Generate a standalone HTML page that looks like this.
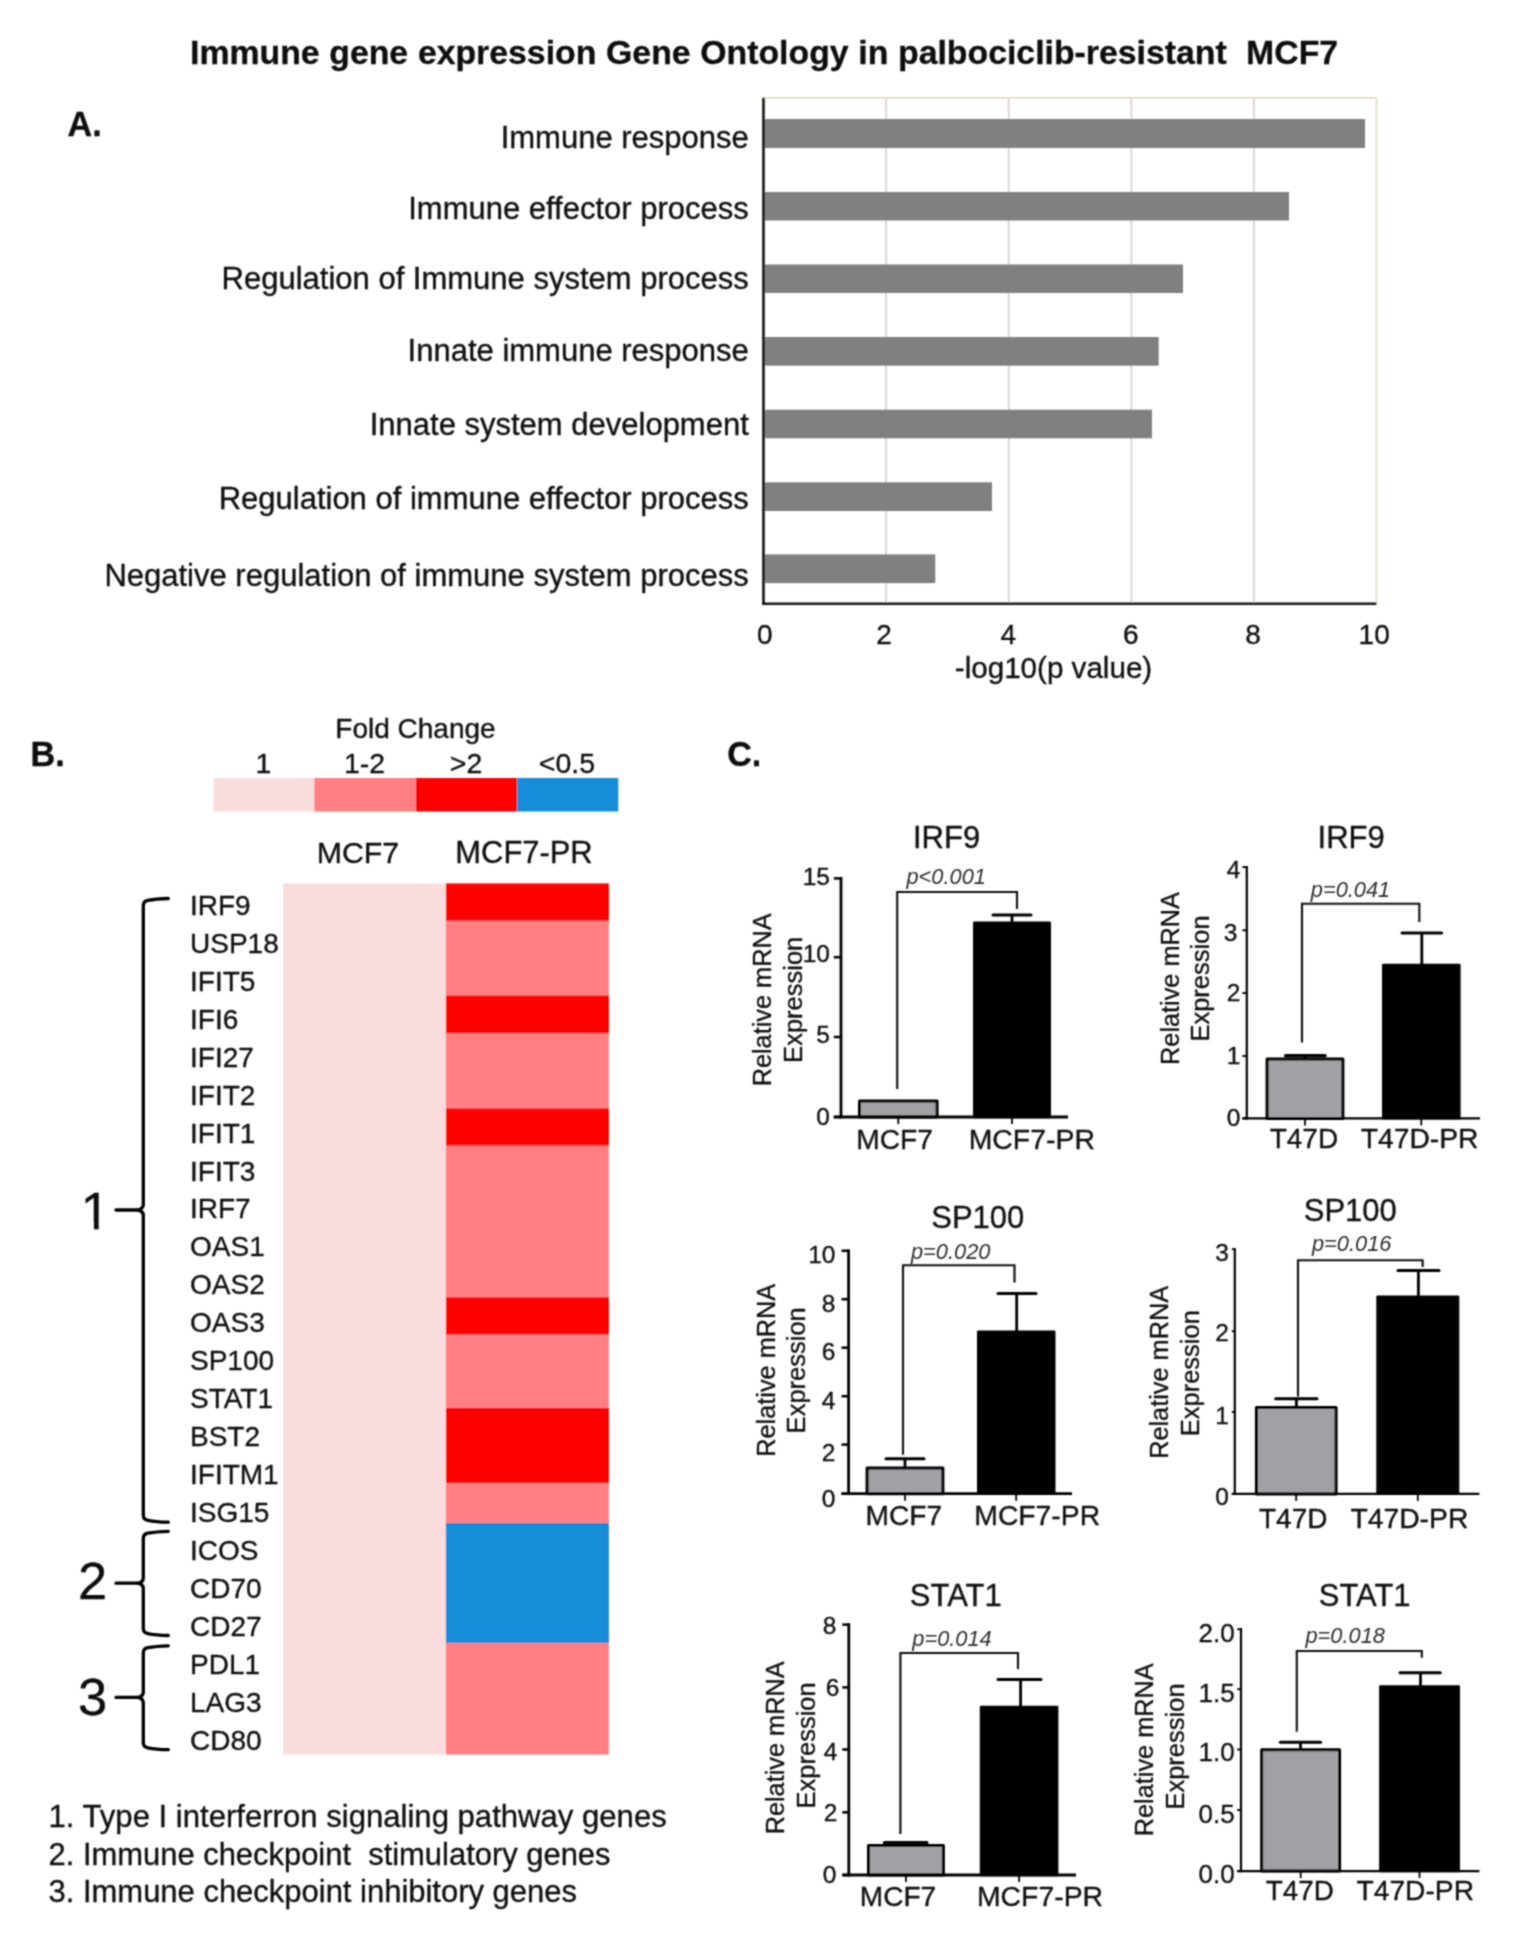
<!DOCTYPE html>
<html><head><meta charset="utf-8"><title>Immune gene expression figure</title>
<style>
html,body{margin:0;padding:0;background:#fff}
body{width:1514px;height:1949px;overflow:hidden}
svg{display:block}
svg text{font-family:"Liberation Sans",sans-serif;fill:#0c0c0c;stroke:#0c0c0c;stroke-width:0.3px;stroke-linejoin:round}
</style></head><body>
<svg width="1514" height="1949" viewBox="0 0 1514 1949">
<defs><filter id="soft" x="0" y="0" width="1514" height="1949" filterUnits="userSpaceOnUse"><feConvolveMatrix order="3" kernelMatrix="1 2 1 2 6 2 1 2 1" divisor="18" edgeMode="duplicate" preserveAlpha="false"/></filter></defs>
<rect width="1514" height="1949" fill="#fff"/>
<g filter="url(#soft)">
<text x="190" y="64" font-size="33.8" font-weight="bold" xml:space="preserve" word-spacing="0.32">Immune gene expression Gene Ontology in palbociclib-resistant  MCF7</text>
<text transform="translate(67.5 136.2) scale(0.96 1)" font-size="35.6" font-weight="bold">A.</text>
<text transform="translate(30.6 765.8) scale(0.96 1)" font-size="35.6" font-weight="bold">B.</text>
<text transform="translate(727.2 765.8) scale(0.96 1)" font-size="35.6" font-weight="bold">C.</text>
<line x1="763.5" y1="97.8" x2="1376.5" y2="97.8" stroke="#e2ddc4" stroke-width="1.7" />
<line x1="1376.5" y1="97.8" x2="1376.5" y2="603.7" stroke="#e2ddc4" stroke-width="1.7" />
<line x1="886.1" y1="98.8" x2="886.1" y2="603.7" stroke="#d2d2d2" stroke-width="1.7" />
<line x1="1008.7" y1="98.8" x2="1008.7" y2="603.7" stroke="#d2d2d2" stroke-width="1.7" />
<line x1="1131.3" y1="98.8" x2="1131.3" y2="603.7" stroke="#d2d2d2" stroke-width="1.7" />
<line x1="1253.9" y1="98.8" x2="1253.9" y2="603.7" stroke="#d2d2d2" stroke-width="1.7" />
<rect x="763.5" y="119" width="601.5" height="29" fill="#808080"/>
<rect x="763.5" y="192" width="525.5" height="28.5" fill="#808080"/>
<rect x="763.5" y="264.5" width="419.5" height="28.5" fill="#808080"/>
<rect x="763.5" y="337" width="395.2" height="28.7" fill="#808080"/>
<rect x="763.5" y="409.7" width="388.5" height="28.6" fill="#808080"/>
<rect x="763.5" y="482.3" width="228.5" height="28.7" fill="#808080"/>
<rect x="763.5" y="554.4" width="171.8" height="28.7" fill="#808080"/>
<line x1="763.5" y1="97.8" x2="763.5" y2="605.0" stroke="#151515" stroke-width="2.6" />
<line x1="762.2" y1="603.7" x2="1376.5" y2="603.7" stroke="#151515" stroke-width="2.6" />
<text x="748.8" y="148.3" font-size="31" text-anchor="end" >Immune response</text>
<text x="748.8" y="219.2" font-size="31" text-anchor="end" >Immune effector process</text>
<text x="748.8" y="289.2" font-size="31" text-anchor="end" >Regulation of Immune system process</text>
<text x="748.8" y="361.2" font-size="31" text-anchor="end" >Innate immune response</text>
<text x="748.8" y="435.2" font-size="31" text-anchor="end" >Innate system development</text>
<text x="748.8" y="509.2" font-size="31" text-anchor="end" >Regulation of immune effector process</text>
<text x="748.8" y="586.2" font-size="31" text-anchor="end" >Negative regulation of immune system process</text>
<text x="764.7" y="644.2" font-size="28" text-anchor="middle" >0</text>
<text x="884" y="644.2" font-size="28" text-anchor="middle" >2</text>
<text x="1008.2" y="644.2" font-size="28" text-anchor="middle" >4</text>
<text x="1130.8" y="644.2" font-size="28" text-anchor="middle" >6</text>
<text x="1253" y="644.2" font-size="28" text-anchor="middle" >8</text>
<text x="1374.2" y="644.2" font-size="28" text-anchor="middle" >10</text>
<text x="1053.5" y="678" font-size="29.6" text-anchor="middle" >-log10(p value)</text>
<text x="415.5" y="738" font-size="28" text-anchor="middle" >Fold Change</text>
<rect x="213.6" y="778" width="101.1" height="33.5" fill="#fadcdc"/>
<rect x="314.4" y="778" width="101.9" height="33.5" fill="#ff7f82"/>
<rect x="416" y="778" width="101.3" height="33.5" fill="#ff0000"/>
<rect x="517" y="778" width="101.3" height="33.5" fill="#178dd8"/>
<text x="263.5" y="772.5" font-size="28.5" text-anchor="middle" >1</text>
<text x="364.5" y="772.5" font-size="28.5" text-anchor="middle" >1-2</text>
<text x="466" y="772.5" font-size="28.5" text-anchor="middle" >&gt;2</text>
<text x="567" y="772.5" font-size="28.5" text-anchor="middle" >&lt;0.5</text>
<text x="358" y="862.6" font-size="30.3" text-anchor="middle" >MCF7</text>
<text x="524" y="862.6" font-size="30.9" text-anchor="middle" >MCF7-PR</text>
<rect x="283.2" y="883.5" width="163.2" height="871.0" fill="#fadcdc"/>
<rect x="445.9" y="883.5" width="162.89999999999998" height="871.0" fill="#ff7f82"/>
<rect x="445.9" y="883.5" width="162.89999999999998" height="37.0" fill="#ff0000"/>
<rect x="445.9" y="995.6" width="162.89999999999998" height="37.499999999999886" fill="#ff0000"/>
<rect x="445.9" y="1108.5" width="162.89999999999998" height="36.90000000000009" fill="#ff0000"/>
<rect x="445.9" y="1297.4" width="162.89999999999998" height="36.899999999999864" fill="#ff0000"/>
<rect x="445.9" y="1408" width="162.89999999999998" height="75" fill="#ff0000"/>
<rect x="445.9" y="1523" width="162.9" height="119.79999999999995" fill="#178dd8"/>
<text x="190" y="915.0" font-size="28" >IRF9</text>
<text x="190" y="952.9" font-size="28" >USP18</text>
<text x="190" y="990.9" font-size="28" >IFIT5</text>
<text x="190" y="1028.8" font-size="28" >IFI6</text>
<text x="190" y="1066.7" font-size="28" >IFI27</text>
<text x="190" y="1104.7" font-size="28" >IFIT2</text>
<text x="190" y="1142.6" font-size="28" >IFIT1</text>
<text x="190" y="1180.5" font-size="28" >IFIT3</text>
<text x="190" y="1218.4" font-size="28" >IRF7</text>
<text x="190" y="1256.4" font-size="28" >OAS1</text>
<text x="190" y="1294.3" font-size="28" >OAS2</text>
<text x="190" y="1332.2" font-size="28" >OAS3</text>
<text x="190" y="1370.2" font-size="28" >SP100</text>
<text x="190" y="1408.1" font-size="28" >STAT1</text>
<text x="190" y="1446.0" font-size="28" >BST2</text>
<text x="190" y="1484.0" font-size="28" >IFITM1</text>
<text x="190" y="1521.9" font-size="28" >ISG15</text>
<text x="190" y="1559.8" font-size="28" >ICOS</text>
<text x="190" y="1597.7" font-size="28" >CD70</text>
<text x="190" y="1635.7" font-size="28" >CD27</text>
<text x="190" y="1673.6" font-size="28" >PDL1</text>
<text x="190" y="1711.5" font-size="28" >LAG3</text>
<text x="190" y="1749.5" font-size="28" >CD80</text>
<path d="M168.3 898.5 C160.3 898.7 153.3 899.3 147.8 900.4 Q143.3 901.3 143.3 905.5 L143.3 1204.5 Q143.3 1209.2 137.3 1210 L116 1210 L137.3 1210 Q143.3 1210.8 143.3 1215.5 L143.3 1515.2 Q143.3 1519.4 147.8 1520.3 C153.3 1521.4 160.3 1522.0 168.3 1522.2" fill="none" stroke="#000" stroke-width="3.3" stroke-linecap="round" stroke-linejoin="round"/>
<path d="M168.3 1531.3 C160.3 1531.5 153.3 1532.1 147.8 1533.2 Q143.3 1534.1 143.3 1538.3 L143.3 1577.7 Q143.3 1582.4 137.3 1583.2 L116 1583.2 L137.3 1583.2 Q143.3 1584.0 143.3 1588.7 L143.3 1628.5 Q143.3 1632.7 147.8 1633.6 C153.3 1634.7 160.3 1635.3 168.3 1635.5" fill="none" stroke="#000" stroke-width="3.3" stroke-linecap="round" stroke-linejoin="round"/>
<path d="M168.3 1645.8 C160.3 1646.0 153.3 1646.6 147.8 1647.7 Q143.3 1648.6 143.3 1652.8 L143.3 1691.9 Q143.3 1696.6000000000001 137.3 1697.4 L116 1697.4 L137.3 1697.4 Q143.3 1698.2 143.3 1702.9 L143.3 1742.7 Q143.3 1746.9 147.8 1747.8 C153.3 1748.9 160.3 1749.5 168.3 1749.7" fill="none" stroke="#000" stroke-width="3.3" stroke-linecap="round" stroke-linejoin="round"/>
<defs><clipPath id="c1"><rect x="70" y="1185" width="60" height="38"/><rect x="93.9" y="1185" width="4.85" height="50"/></clipPath></defs>
<text x="95.3" y="1229.3" font-size="52.5" text-anchor="middle" clip-path="url(#c1)">1</text>
<text x="92.5" y="1598.6" font-size="52.5" text-anchor="middle" >2</text>
<text x="92.5" y="1715" font-size="52.5" text-anchor="middle" >3</text>
<text x="48.5" y="1827" font-size="31.1" >1. Type I interferron signaling pathway genes</text>
<text x="48.5" y="1865.2" font-size="30.93" xml:space="preserve">2. Immune checkpoint  stimulatory genes</text>
<text x="48.5" y="1902" font-size="30.98" >3. Immune checkpoint inhibitory genes</text>
<text x="946.6" y="848.3" font-size="31" text-anchor="middle" >IRF9</text>
<rect x="859.5" y="1101.0" width="77.6" height="16.0" fill="#a1a0a5" stroke="#000" stroke-width="3" stroke-linejoin="round"/>
<rect x="974.2" y="922.7" width="75.6" height="194.3" fill="#000" stroke="#000" stroke-width="2.4" stroke-linejoin="round"/>
<line x1="993" y1="914.9" x2="1031" y2="914.9" stroke="#000" stroke-width="3.0" stroke-linecap="round"/>
<line x1="1012" y1="914.9" x2="1012" y2="922.5" stroke="#000" stroke-width="2.8" />
<line x1="841" y1="877.0" x2="841" y2="1118.4" stroke="#000" stroke-width="2.8" />
<line x1="833.8" y1="1117" x2="1068" y2="1117" stroke="#000" stroke-width="2.8" />
<line x1="833.8" y1="878.4" x2="841" y2="878.4" stroke="#000" stroke-width="2.5" />
<text x="830" y="885.2" font-size="24.5" text-anchor="end" >15</text>
<line x1="833.8" y1="957.2" x2="841" y2="957.2" stroke="#000" stroke-width="2.5" />
<text x="830" y="961.9" font-size="24.5" text-anchor="end" >10</text>
<line x1="833.8" y1="1037" x2="841" y2="1037" stroke="#000" stroke-width="2.5" />
<text x="830" y="1042.7" font-size="24.5" text-anchor="end" >5</text>
<line x1="833.8" y1="1117" x2="841" y2="1117" stroke="#000" stroke-width="2.5" />
<text x="830" y="1125.3" font-size="24.5" text-anchor="end" >0</text>
<line x1="898.3" y1="1117" x2="898.3" y2="1124" stroke="#000" stroke-width="1.8" />
<line x1="1012.0" y1="1117" x2="1012.0" y2="1124" stroke="#000" stroke-width="1.8" />
<path d="M897.2 1089 V892 H1017 V909" fill="none" stroke="#0a0a0a" stroke-width="2.1"/>
<text x="906.5" y="884" font-size="21.8" font-style="italic" style="fill:#2e2e2e;stroke:none">p&lt;0.001</text>
<text x="894.6" y="1148.8" font-size="28.2" text-anchor="middle" >MCF7</text>
<text x="1031.8" y="1148.8" font-size="28.4" text-anchor="middle" >MCF7-PR</text>
<text transform="translate(771 999.9) rotate(-90)" font-size="25.3" text-anchor="middle">Relative mRNA</text>
<text transform="translate(801.5 999.8) rotate(-90)" font-size="25.5" text-anchor="middle">Expression</text>
<text x="1351.2" y="848.3" font-size="31" text-anchor="middle" >IRF9</text>
<rect x="1267.1" y="1059.0" width="75.8" height="59.4" fill="#a1a0a5" stroke="#000" stroke-width="3" stroke-linejoin="round"/>
<rect x="1383.2" y="965.0" width="76.2" height="153.4" fill="#000" stroke="#000" stroke-width="2.4" stroke-linejoin="round"/>
<line x1="1285.7" y1="1055.8" x2="1325" y2="1055.8" stroke="#000" stroke-width="3.6" stroke-linecap="round"/>
<line x1="1305" y1="1055.8" x2="1305" y2="1058.6" stroke="#000" stroke-width="2.8" />
<line x1="1402" y1="933" x2="1441.6" y2="933" stroke="#000" stroke-width="3.0" stroke-linecap="round"/>
<line x1="1421.8" y1="933" x2="1421.8" y2="964.8" stroke="#000" stroke-width="2.8" />
<line x1="1246.8" y1="866.0" x2="1246.8" y2="1119.5" stroke="#000" stroke-width="2.2" />
<line x1="1242.4" y1="1118.4" x2="1480" y2="1118.4" stroke="#000" stroke-width="2.2" />
<line x1="1242.4" y1="867.1" x2="1246.8" y2="867.1" stroke="#000" stroke-width="1.9000000000000001" />
<text x="1240.3" y="877.9" font-size="24.5" text-anchor="end" >4</text>
<line x1="1242.4" y1="930.3" x2="1246.8" y2="930.3" stroke="#000" stroke-width="1.9000000000000001" />
<text x="1237.3" y="941" font-size="24.5" text-anchor="end" >3</text>
<line x1="1242.4" y1="993" x2="1246.8" y2="993" stroke="#000" stroke-width="1.9000000000000001" />
<text x="1240.3" y="1001.3" font-size="24.5" text-anchor="end" >2</text>
<line x1="1242.4" y1="1056" x2="1246.8" y2="1056" stroke="#000" stroke-width="1.9000000000000001" />
<text x="1240.3" y="1063.7" font-size="24.5" text-anchor="end" >1</text>
<line x1="1242.4" y1="1118.4" x2="1246.8" y2="1118.4" stroke="#000" stroke-width="1.9000000000000001" />
<text x="1240.3" y="1126.2" font-size="24.5" text-anchor="end" >0</text>
<line x1="1305.0" y1="1118.4" x2="1305.0" y2="1125.4" stroke="#000" stroke-width="1.8" />
<line x1="1421.3" y1="1118.4" x2="1421.3" y2="1125.4" stroke="#000" stroke-width="1.8" />
<path d="M1302 1042.5 V903.8 H1419.3 V922" fill="none" stroke="#0a0a0a" stroke-width="2.1"/>
<text x="1310.8" y="897" font-size="21.8" font-style="italic" style="fill:#2e2e2e;stroke:none">p=0.041</text>
<text x="1303.9" y="1148.3" font-size="28.0" text-anchor="middle" >T47D</text>
<text x="1419.6" y="1148.3" font-size="28.25" text-anchor="middle" >T47D-PR</text>
<text transform="translate(1178.8 978.5) rotate(-90)" font-size="25.3" text-anchor="middle">Relative mRNA</text>
<text transform="translate(1209.2 978.5) rotate(-90)" font-size="25.5" text-anchor="middle">Expression</text>
<text x="977.8" y="1228.3" font-size="31" text-anchor="middle" >SP100</text>
<rect x="867.1" y="1468.1" width="75.8" height="25.6" fill="#a1a0a5" stroke="#000" stroke-width="3" stroke-linejoin="round"/>
<rect x="978.2" y="1331.8" width="76.1" height="161.9" fill="#000" stroke="#000" stroke-width="2.4" stroke-linejoin="round"/>
<line x1="886" y1="1458.7" x2="924" y2="1458.7" stroke="#000" stroke-width="3.0" stroke-linecap="round"/>
<line x1="905" y1="1458.7" x2="905" y2="1467.7" stroke="#000" stroke-width="2.8" />
<line x1="998" y1="1293.6" x2="1036" y2="1293.6" stroke="#000" stroke-width="3.0" stroke-linecap="round"/>
<line x1="1016.7" y1="1293.6" x2="1016.7" y2="1331.6" stroke="#000" stroke-width="2.8" />
<line x1="848.6" y1="1249.4" x2="848.6" y2="1495.1" stroke="#000" stroke-width="2.8" />
<line x1="841.5" y1="1493.7" x2="1072" y2="1493.7" stroke="#000" stroke-width="2.8" />
<line x1="841.5" y1="1250.8" x2="848.6" y2="1250.8" stroke="#000" stroke-width="2.5" />
<text x="835.5" y="1262.7" font-size="24.5" text-anchor="end" >10</text>
<line x1="841.5" y1="1299.2" x2="848.6" y2="1299.2" stroke="#000" stroke-width="2.5" />
<text x="835.5" y="1311.9" font-size="24.5" text-anchor="end" >8</text>
<line x1="841.5" y1="1347.7" x2="848.6" y2="1347.7" stroke="#000" stroke-width="2.5" />
<text x="835.5" y="1360.1" font-size="24.5" text-anchor="end" >6</text>
<line x1="841.5" y1="1396.2" x2="848.6" y2="1396.2" stroke="#000" stroke-width="2.5" />
<text x="835.5" y="1408.8" font-size="24.5" text-anchor="end" >4</text>
<line x1="841.5" y1="1444.6" x2="848.6" y2="1444.6" stroke="#000" stroke-width="2.5" />
<text x="835.5" y="1461.1" font-size="24.5" text-anchor="end" >2</text>
<line x1="841.5" y1="1493.7" x2="848.6" y2="1493.7" stroke="#000" stroke-width="2.5" />
<text x="835.5" y="1506.5" font-size="24.5" text-anchor="end" >0</text>
<line x1="905.0" y1="1493.7" x2="905.0" y2="1500.7" stroke="#000" stroke-width="1.8" />
<line x1="1016.2" y1="1493.7" x2="1016.2" y2="1500.7" stroke="#000" stroke-width="1.8" />
<path d="M903 1454.8 V1265.3 H1014.5 V1282.5" fill="none" stroke="#0a0a0a" stroke-width="2.1"/>
<text x="911" y="1259" font-size="21.8" font-style="italic" style="fill:#2e2e2e;stroke:none">p=0.020</text>
<text x="903.8" y="1525.3" font-size="28.15" text-anchor="middle" >MCF7</text>
<text x="1037.2" y="1525.3" font-size="28.3" text-anchor="middle" >MCF7-PR</text>
<text transform="translate(775 1370.3) rotate(-90)" font-size="25.3" text-anchor="middle">Relative mRNA</text>
<text transform="translate(805 1370.3) rotate(-90)" font-size="25.5" text-anchor="middle">Expression</text>
<text x="1350.3" y="1221" font-size="31" text-anchor="middle" >SP100</text>
<rect x="1256.4" y="1407.4" width="79.7" height="86.5" fill="#a1a0a5" stroke="#000" stroke-width="3" stroke-linejoin="round"/>
<rect x="1377.5" y="1296.7" width="80.6" height="197.2" fill="#000" stroke="#000" stroke-width="2.4" stroke-linejoin="round"/>
<line x1="1275.7" y1="1398.8" x2="1317" y2="1398.8" stroke="#000" stroke-width="3.0" stroke-linecap="round"/>
<line x1="1296.4" y1="1398.8" x2="1296.4" y2="1407" stroke="#000" stroke-width="2.8" />
<line x1="1398" y1="1270.6" x2="1439" y2="1270.6" stroke="#000" stroke-width="3.0" stroke-linecap="round"/>
<line x1="1418.4" y1="1270.6" x2="1418.4" y2="1296.5" stroke="#000" stroke-width="2.8" />
<line x1="1234.8" y1="1248.1" x2="1234.8" y2="1495.0" stroke="#000" stroke-width="2.2" />
<line x1="1231.8" y1="1493.9" x2="1479.4" y2="1493.9" stroke="#000" stroke-width="2.2" />
<line x1="1231.8" y1="1249.2" x2="1234.8" y2="1249.2" stroke="#000" stroke-width="1.9000000000000001" />
<text x="1228.8" y="1261.1" font-size="24.5" text-anchor="end" >3</text>
<line x1="1231.8" y1="1331.2" x2="1234.8" y2="1331.2" stroke="#000" stroke-width="1.9000000000000001" />
<text x="1228.8" y="1340.7" font-size="24.5" text-anchor="end" >2</text>
<line x1="1231.8" y1="1412" x2="1234.8" y2="1412" stroke="#000" stroke-width="1.9000000000000001" />
<text x="1228.8" y="1424.2" font-size="24.5" text-anchor="end" >1</text>
<line x1="1231.8" y1="1493.9" x2="1234.8" y2="1493.9" stroke="#000" stroke-width="1.9000000000000001" />
<text x="1228.8" y="1505" font-size="24.5" text-anchor="end" >0</text>
<line x1="1296.2" y1="1493.9" x2="1296.2" y2="1500.9" stroke="#000" stroke-width="1.8" />
<line x1="1417.8" y1="1493.9" x2="1417.8" y2="1500.9" stroke="#000" stroke-width="1.8" />
<path d="M1298 1396.6 V1260.2 H1422.6 V1267" fill="none" stroke="#0a0a0a" stroke-width="2.1"/>
<text x="1312" y="1250.8" font-size="21.8" font-style="italic" style="fill:#2e2e2e;stroke:none">p=0.016</text>
<text x="1293.2" y="1527.9" font-size="28.0" text-anchor="middle" >T47D</text>
<text x="1409.4" y="1527.9" font-size="28.3" text-anchor="middle" >T47D-PR</text>
<text transform="translate(1168.1 1372.4) rotate(-90)" font-size="25.3" text-anchor="middle">Relative mRNA</text>
<text transform="translate(1198.5 1373.2) rotate(-90)" font-size="25.5" text-anchor="middle">Expression</text>
<text x="955.8" y="1606.3" font-size="31" text-anchor="middle" >STAT1</text>
<rect x="868.5" y="1845.4" width="74.9" height="29.6" fill="#a1a0a5" stroke="#000" stroke-width="3" stroke-linejoin="round"/>
<rect x="981.0" y="1706.9" width="76.2" height="168.1" fill="#000" stroke="#000" stroke-width="2.4" stroke-linejoin="round"/>
<line x1="884.6" y1="1842.7" x2="926.8" y2="1842.7" stroke="#000" stroke-width="3.6" stroke-linecap="round"/>
<line x1="905.7" y1="1842.7" x2="905.7" y2="1845" stroke="#000" stroke-width="2.8" />
<line x1="998" y1="1679.4" x2="1041" y2="1679.4" stroke="#000" stroke-width="3.0" stroke-linecap="round"/>
<line x1="1020.6" y1="1679.4" x2="1020.6" y2="1706.7" stroke="#000" stroke-width="2.8" />
<line x1="848.8" y1="1623.2" x2="848.8" y2="1876.4" stroke="#000" stroke-width="2.8" />
<line x1="842.3" y1="1875" x2="1076" y2="1875" stroke="#000" stroke-width="2.8" />
<line x1="842.3" y1="1624.6" x2="848.8" y2="1624.6" stroke="#000" stroke-width="2.5" />
<text x="836.3" y="1633.8" font-size="24.5" text-anchor="end" >8</text>
<line x1="842.3" y1="1687.4" x2="848.8" y2="1687.4" stroke="#000" stroke-width="2.5" />
<text x="839.3" y="1696.2" font-size="24.5" text-anchor="end" >6</text>
<line x1="842.3" y1="1749.5" x2="848.8" y2="1749.5" stroke="#000" stroke-width="2.5" />
<text x="837.3" y="1759.6" font-size="24.5" text-anchor="end" >4</text>
<line x1="842.3" y1="1812.3" x2="848.8" y2="1812.3" stroke="#000" stroke-width="2.5" />
<text x="837.3" y="1821.4" font-size="24.5" text-anchor="end" >2</text>
<line x1="842.3" y1="1875" x2="848.8" y2="1875" stroke="#000" stroke-width="2.5" />
<text x="836.3" y="1883.4" font-size="24.5" text-anchor="end" >0</text>
<line x1="906.0" y1="1875" x2="906.0" y2="1882" stroke="#000" stroke-width="1.8" />
<line x1="1019.1" y1="1875" x2="1019.1" y2="1882" stroke="#000" stroke-width="1.8" />
<path d="M900.4 1834 V1653 H1018 V1668.9" fill="none" stroke="#0a0a0a" stroke-width="2.1"/>
<text x="912.3" y="1645.9" font-size="21.8" font-style="italic" style="fill:#2e2e2e;stroke:none">p=0.014</text>
<text x="898.0" y="1905.5" font-size="28.1" text-anchor="middle" >MCF7</text>
<text x="1040" y="1905.5" font-size="28.4" text-anchor="middle" >MCF7-PR</text>
<text transform="translate(783.5 1747.9) rotate(-90)" font-size="25.3" text-anchor="middle">Relative mRNA</text>
<text transform="translate(814.5 1745.4) rotate(-90)" font-size="25.5" text-anchor="middle">Expression</text>
<text x="1364.7" y="1606.4" font-size="31" text-anchor="middle" >STAT1</text>
<rect x="1261.7" y="1749.8" width="77.9" height="121.3" fill="#a1a0a5" stroke="#000" stroke-width="3" stroke-linejoin="round"/>
<rect x="1380.3" y="1686.4" width="78.5" height="184.7" fill="#000" stroke="#000" stroke-width="2.4" stroke-linejoin="round"/>
<line x1="1280.4" y1="1742.3" x2="1320.6" y2="1742.3" stroke="#000" stroke-width="3.0" stroke-linecap="round"/>
<line x1="1300.5" y1="1742.3" x2="1300.5" y2="1749.4" stroke="#000" stroke-width="2.8" />
<line x1="1400" y1="1672.8" x2="1440.3" y2="1672.8" stroke="#000" stroke-width="3.0" stroke-linecap="round"/>
<line x1="1420.5" y1="1672.8" x2="1420.5" y2="1686.2" stroke="#000" stroke-width="2.8" />
<line x1="1241" y1="1628.1" x2="1241" y2="1872.2" stroke="#000" stroke-width="2.2" />
<line x1="1237.2" y1="1871.1" x2="1479.4" y2="1871.1" stroke="#000" stroke-width="2.2" />
<line x1="1237.2" y1="1629.2" x2="1241" y2="1629.2" stroke="#000" stroke-width="1.9000000000000001" />
<text x="1234.7" y="1641.9" font-size="26" text-anchor="end" >2.0</text>
<line x1="1237.2" y1="1689.2" x2="1241" y2="1689.2" stroke="#000" stroke-width="1.9000000000000001" />
<text x="1234.7" y="1701.9" font-size="26" text-anchor="end" >1.5</text>
<line x1="1237.2" y1="1749.5" x2="1241" y2="1749.5" stroke="#000" stroke-width="1.9000000000000001" />
<text x="1234.7" y="1761.1" font-size="26" text-anchor="end" >1.0</text>
<line x1="1237.2" y1="1810" x2="1241" y2="1810" stroke="#000" stroke-width="1.9000000000000001" />
<text x="1234.7" y="1822.7" font-size="26" text-anchor="end" >0.5</text>
<line x1="1237.2" y1="1871.1" x2="1241" y2="1871.1" stroke="#000" stroke-width="1.9000000000000001" />
<text x="1234.7" y="1883" font-size="26" text-anchor="end" >0.0</text>
<line x1="1300.7" y1="1871.1" x2="1300.7" y2="1878.1" stroke="#000" stroke-width="1.8" />
<line x1="1419.5" y1="1871.1" x2="1419.5" y2="1878.1" stroke="#000" stroke-width="1.8" />
<path d="M1296.8 1731.7 V1651 H1421.8 V1657.8" fill="none" stroke="#0a0a0a" stroke-width="2.1"/>
<text x="1305.5" y="1643.2" font-size="21.8" font-style="italic" style="fill:#2e2e2e;stroke:none">p=0.018</text>
<text x="1299.8" y="1900.4" font-size="27.9" text-anchor="middle" >T47D</text>
<text x="1415.3" y="1900.4" font-size="28.2" text-anchor="middle" >T47D-PR</text>
<text transform="translate(1153.2 1749.8) rotate(-90)" font-size="25.3" text-anchor="middle">Relative mRNA</text>
<text transform="translate(1183.8 1746.5) rotate(-90)" font-size="25.5" text-anchor="middle">Expression</text>
</g>
</svg>
</body></html>
